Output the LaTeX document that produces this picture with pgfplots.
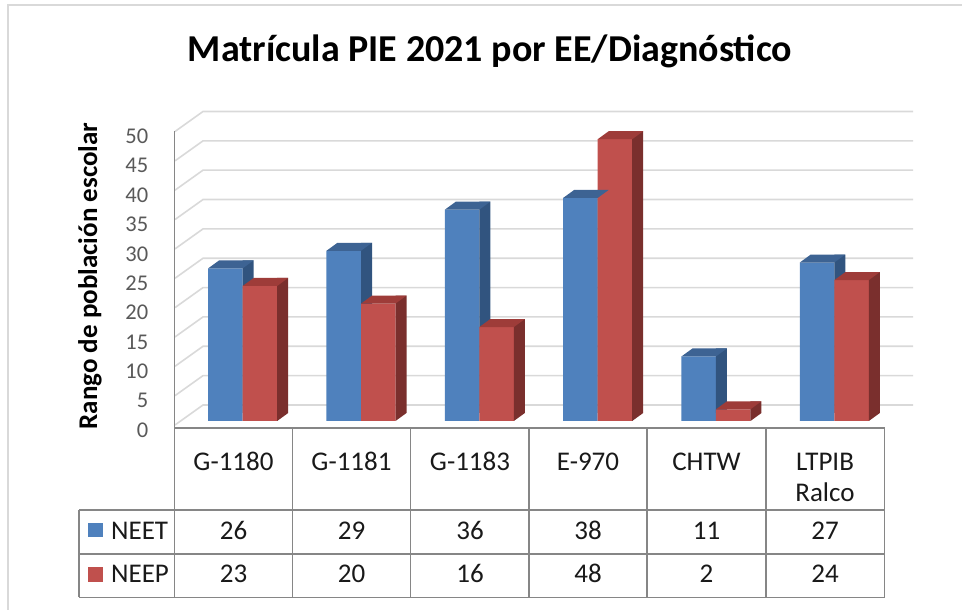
\documentclass[border=0pt]{standalone}
\usepackage{fontspec}
\setmainfont{Carlito}
\usepackage{pgfplots}
\usepackage{pgfplotstable}
\pgfplotsset{compat=1.18}

\definecolor{bfront}{HTML}{4F81BD}
\definecolor{btop}{HTML}{3D6393}
\definecolor{bside}{HTML}{31547F}
\definecolor{rfront}{HTML}{C0504D}
\definecolor{rtop}{HTML}{9E3C39}
\definecolor{rside}{HTML}{7A2F2D}
\definecolor{gridc}{HTML}{D9D9D9}
\definecolor{tabc}{HTML}{868686}
\definecolor{tickc}{HTML}{595959}

% top faces and bottom side triangle (fixed pixel shapes)
\pgfdeclareplotmark{bluetop}{%
  \pgfpathmoveto{\pgfqpoint{-34.5pt}{0pt}}%
  \pgfpathlineto{\pgfqpoint{0pt}{0pt}}%
  \pgfpathlineto{\pgfqpoint{11pt}{8pt}}%
  \pgfpathlineto{\pgfqpoint{-23.5pt}{8pt}}%
  \pgfpathclose\pgfusepathqfill}
\pgfdeclareplotmark{redtop}{%
  \pgfpathmoveto{\pgfqpoint{0pt}{0pt}}%
  \pgfpathlineto{\pgfqpoint{34.5pt}{0pt}}%
  \pgfpathlineto{\pgfqpoint{45.5pt}{8pt}}%
  \pgfpathlineto{\pgfqpoint{11pt}{8pt}}%
  \pgfpathclose\pgfusepathqfill}
\pgfdeclareplotmark{redbottom}{%
  \pgfpathmoveto{\pgfqpoint{34.5pt}{0pt}}%
  \pgfpathlineto{\pgfqpoint{45.5pt}{8pt}}%
  \pgfpathlineto{\pgfqpoint{34.5pt}{8pt}}%
  \pgfpathclose\pgfusepathqfill}

\pgfplotstableread{
x   neet neep
0.5 26   23
1.5 29   20
2.5 36   16
3.5 38   48
4.5 11   2
5.5 27   24
}\datatable

\begin{document}
\begin{tikzpicture}[x=1pt,y=1pt]
\useasboundingbox (0,0) rectangle (962,610);
% chart border (left and top visible)
\draw[gridc, line width=1.5pt] (8,0) -- (8,605) -- (962,605);

% gridlines on side wall and back wall
\foreach \v in {0,5,...,50} {
  \pgfmathsetmacro\Yf{189+5.87*\v-4}
  \pgfmathsetmacro\Yb{189+5.87*\v+16}
  \draw[gridc, line width=1.6pt] (175,\Yf) -- (203,\Yb) -- (913,\Yb);
}
% left wall line
\draw[tabc, line width=1.5pt] (174.5,478.5) -- (174.5,182);

% title and y label
\node[anchor=base, font=\bfseries\fontsize{38}{46}\selectfont, inner sep=0pt] at (490,548) {Matrícula PIE 2021 por EE/Diagnóstico};
\node[rotate=90, anchor=base, font=\bfseries\fontsize{27}{32}\selectfont, inner sep=0pt] at (97,334) {Rango de población escolar};

\begin{axis}[
  at={(183.5pt,189pt)}, anchor=south west,
  scale only axis, width=710pt, height=293.5pt,
  xmin=0, xmax=6, ymin=0, ymax=50,
  enlargelimits=false, clip=false,
  axis line style={draw=none},
  xtick=\empty,
  ytick={0,5,...,50},
  tick style={draw=none}, major tick length=0pt,
  /pgf/number format/assume math mode=true,
  yticklabel style={anchor=east, inner sep=0pt, xshift=-35pt, yshift=-9pt,
    font=\fontsize{22.5}{27}\selectfont, text=tickc},
]
% NEET
\addplot[ybar, bar width=34.5pt, bar shift=-17.25pt, fill=bfront, draw=none, mark=none] table[x=x, y=neet] {\datatable};
\addplot[ybar, bar width=11pt, bar shift=5.5pt, fill=bside, draw=none, mark=none, yshift=8pt] table[x=x, y=neet] {\datatable};
\addplot[only marks, mark=bluetop, mark options={fill=btop, draw=none}] table[x=x, y=neet] {\datatable};
% NEEP
\addplot[ybar, bar width=34.5pt, bar shift=17.25pt, fill=rfront, draw=none, mark=none] table[x=x, y=neep] {\datatable};
\addplot[ybar, bar width=11pt, bar shift=40pt, fill=rside, draw=none, mark=none, yshift=8pt] table[x=x, y=neep] {\datatable};
\addplot[only marks, mark=redbottom, mark options={fill=rside, draw=none}] table[x=x, y expr=0] {\datatable};
\addplot[only marks, mark=redtop, mark options={fill=rtop, draw=none}] table[x=x, y=neep] {\datatable};
\end{axis}

% data table
\begin{scope}[tabc, line width=1.5pt]
\draw (174.5,182) -- (884.5,182);
\draw (79,100) -- (884.5,100);
\draw (79,56) -- (884.5,56);
\draw (79,12.5) -- (884.5,12.5);
\draw (79,100) -- (79,12.5);
\foreach \xx in {174.5,292.5,410.5,529,647,766,884.5} {\draw (\xx,182) -- (\xx,12.5);}
\end{scope}

\begin{scope}[every node/.style={anchor=base, inner sep=0pt, font=\fontsize{27}{32}\selectfont, text={black!90}}]
\node at (233.5,139) {G-1180};
\node at (351.5,139) {G-1181};
\node at (470,139) {G-1183};
\node at (588,139) {E-970};
\node at (706.5,139) {CHTW};
\node at (825,139) {LTPIB};
\node at (825,108) {Ralco};
% NEET row
\node at (233.5,70.5) {26};
\node at (351.5,70.5) {29};
\node at (470,70.5) {36};
\node at (588,70.5) {38};
\node at (706.5,70.5) {11};
\node at (825,70.5) {27};
% NEEP row
\node at (233.5,27.5) {23};
\node at (351.5,27.5) {20};
\node at (470,27.5) {16};
\node at (588,27.5) {48};
\node at (706.5,27.5) {2};
\node at (825,27.5) {24};
\node[anchor=base west] at (111,70.5) {NEET};
\node[anchor=base west] at (111,27.5) {NEEP};
\end{scope}
\fill[bfront] (88,73) rectangle (103,87);
\fill[rfront] (88,28) rectangle (103,43);
\end{tikzpicture}
\end{document}
